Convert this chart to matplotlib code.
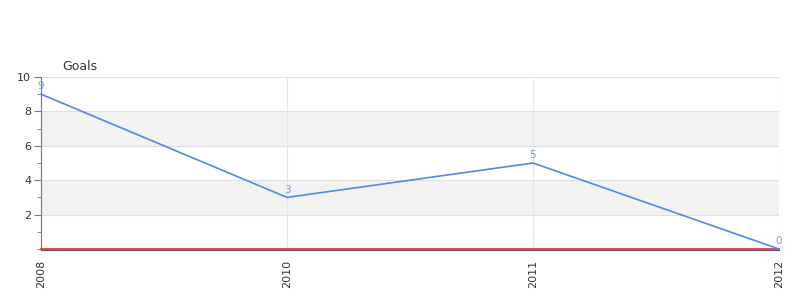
import matplotlib
matplotlib.use("Agg")
import matplotlib.pyplot as plt
from matplotlib.ticker import MultipleLocator

years = ["2008", "2010", "2011", "2012"]
goals = [9, 3, 5, 0]

fig = plt.figure(figsize=(8, 3), dpi=100)
ax = fig.add_axes([41 / 800, 1 - 249 / 300, 738 / 800, 172 / 300])

for s in ["top", "right"]:
    ax.spines[s].set_visible(False)
ax.spines["left"].set_color("#777777")
ax.spines["bottom"].set_color("#555555")
ax.spines["bottom"].set_position(("outward", 1))

x = list(range(len(years)))

# alternating bands
for lo, hi in [(2, 4), (6, 8)]:
    ax.axhspan(lo, hi, color="#f2f2f2", zorder=0, lw=0)

for v in [2, 4, 6, 8, 10]:
    ax.axhline(v, color="#e0e0e0", lw=0.8, zorder=1)
for xi in x:
    ax.axvline(xi, color="#e6e6e6", lw=0.8, zorder=1)

ax.axhline(0, color="#e8241c", lw=1.2, zorder=3, clip_on=False)
ax.plot(x, goals, color="#5088e8", lw=1.2, zorder=4, clip_on=False)

for xi, g in zip(x, goals):
    ax.annotate(str(g), (xi, g), xytext=(0, 2), textcoords="offset points",
                ha="center", va="bottom", fontsize=7.5, color="#6c9cf0", zorder=5)

ax.set_xlim(0, len(years) - 1)
ax.set_ylim(0, 10)
ax.set_xticks(x)
ax.set_xticklabels(years, rotation=90, fontsize=8, color="#333333", va="top")
ax.set_yticks([2, 4, 6, 8, 10])
ax.set_yticklabels(["2", "4", "6", "8", "10"], fontsize=8, color="#333333")
ax.yaxis.set_minor_locator(MultipleLocator(1))
ax.tick_params(axis="y", which="major", length=5, color="#777777", pad=2)
ax.tick_params(axis="y", which="minor", length=3, color="#777777")
ax.tick_params(axis="x", length=0, pad=7)

fig.text(62 / 800, 1 - 66 / 300, "Goals", fontsize=9, color="#333333", va="center", ha="left")

fig.savefig("out.png", dpi=100)
